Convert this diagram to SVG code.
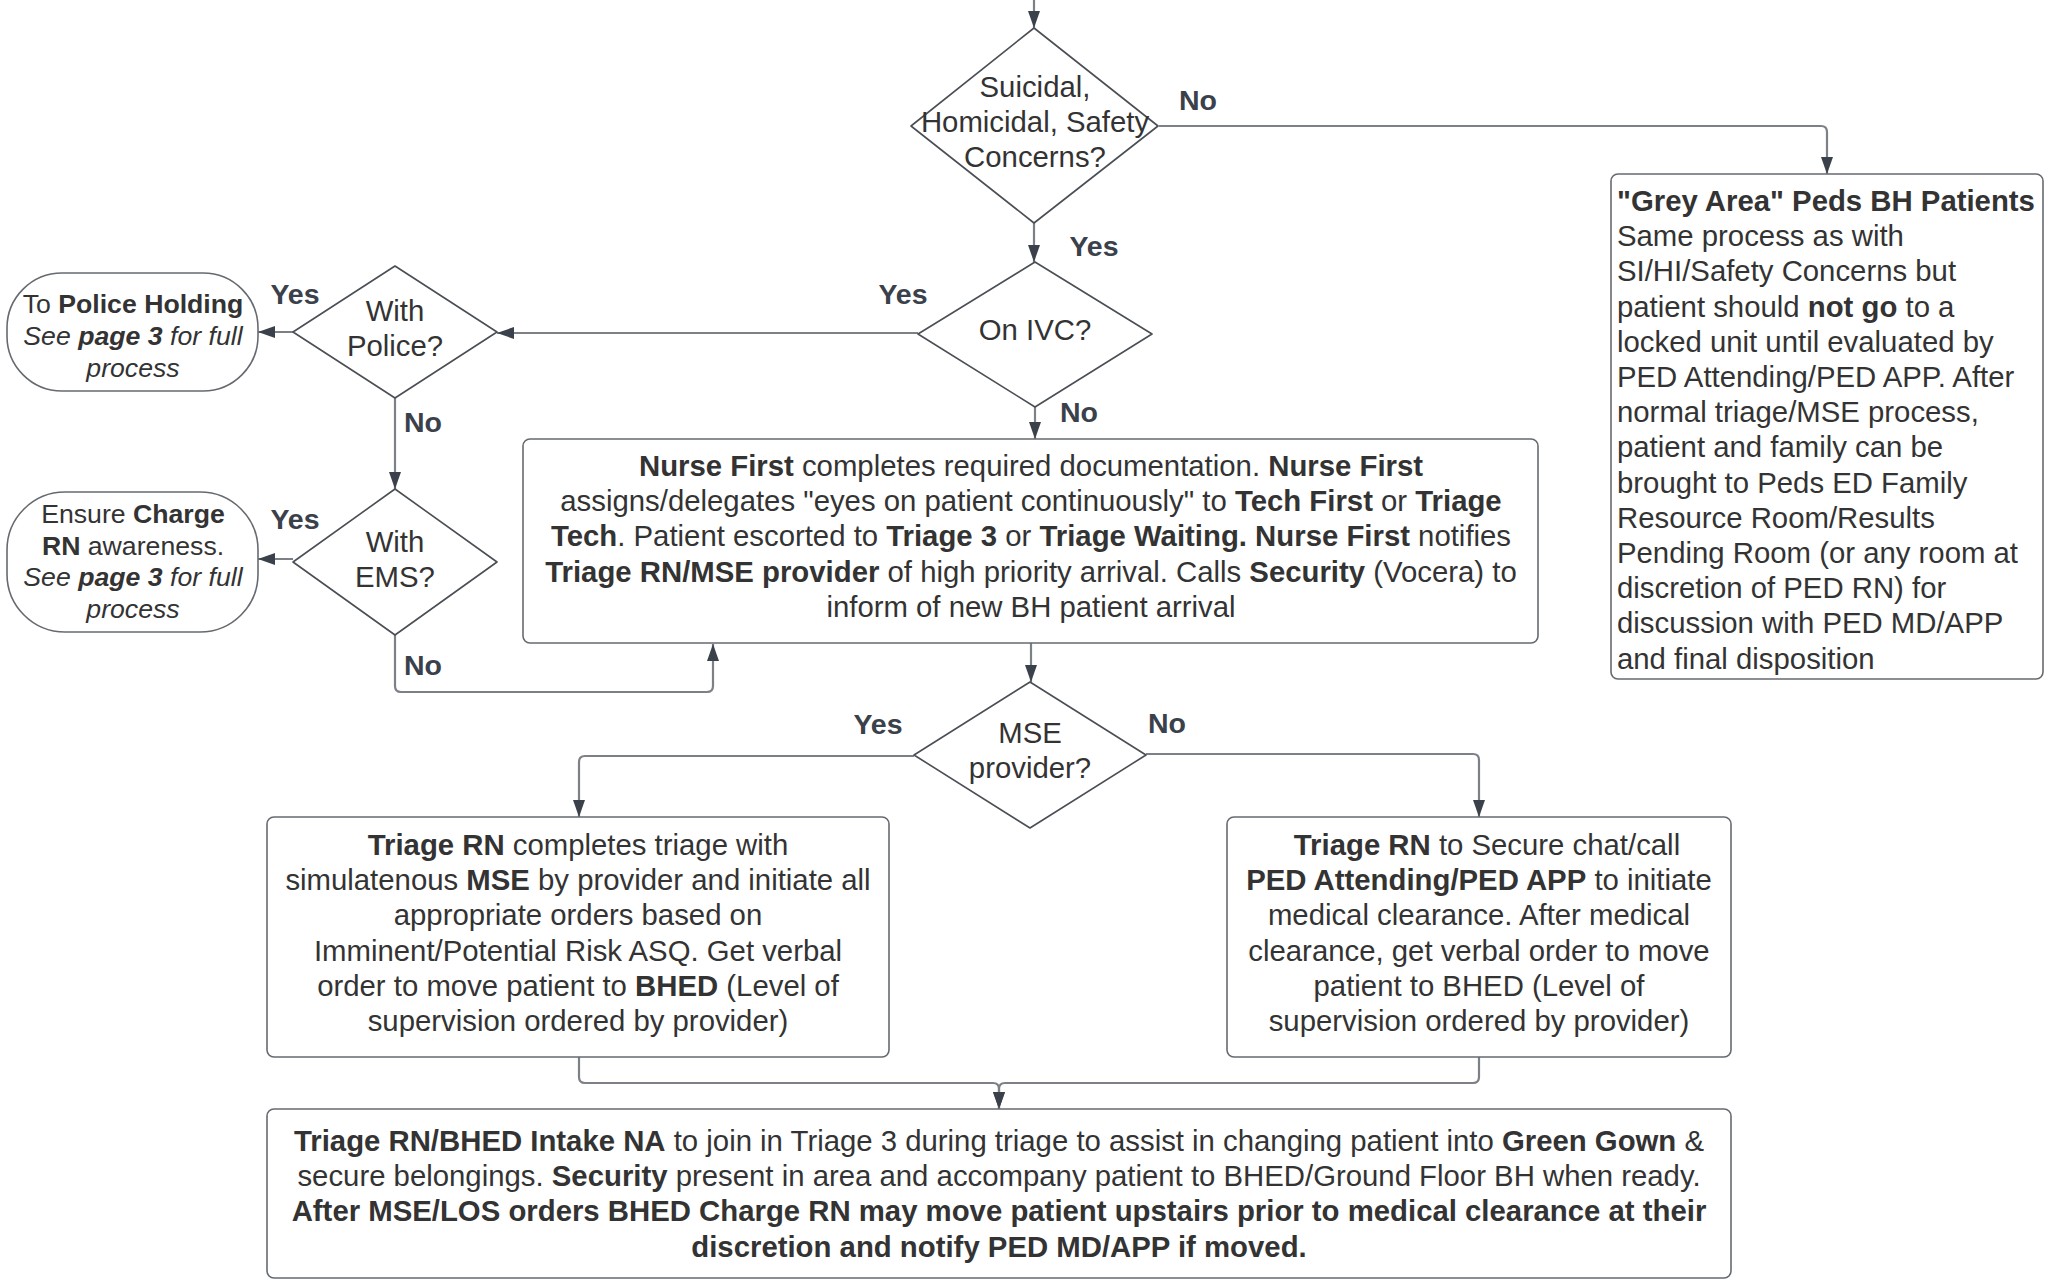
<svg xmlns="http://www.w3.org/2000/svg" width="2049" height="1282" viewBox="0 0 2049 1282">
<defs>
<marker id="ah" viewBox="0 0 17 12" refX="17" refY="6" markerWidth="17" markerHeight="12" markerUnits="userSpaceOnUse" orient="auto"><path d="M0,0 L17,6 L0,12 z" fill="#3a414a"/></marker>
<style>
.box{fill:#fff;stroke:#666a70;stroke-width:1.6}
.dia{fill:#fff;stroke:#4a4f55;stroke-width:1.6;stroke-linejoin:round}
.con{fill:none;stroke:#7d8187;stroke-width:2.2}
.t{font-family:"Liberation Sans",Arial,sans-serif;font-size:29.33px;fill:#333333}
.c{text-anchor:middle}
.s{font-size:26.67px}
.b{font-weight:bold}
.i{font-style:italic}
.lbl{font-family:"Liberation Sans",Arial,sans-serif;font-size:28.5px;font-weight:bold;fill:#3a414a;text-anchor:middle}
</style>
</defs>
<rect width="2049" height="1282" fill="#fff"/>

<g id="connectors">
<path class="con" d="M1034,0 V28" marker-end="url(#ah)"/>
<path class="con" d="M1034,223 V262" marker-end="url(#ah)"/>
<path class="con" d="M1159,126 H1821 Q1827,126 1827,132 V174" marker-end="url(#ah)"/>
<path class="con" d="M918,333 H497" marker-end="url(#ah)"/>
<path class="con" d="M1035,407 V439" marker-end="url(#ah)"/>
<path class="con" d="M293,332 H258" marker-end="url(#ah)"/>
<path class="con" d="M395,398 V489" marker-end="url(#ah)"/>
<path class="con" d="M293,559 H258" marker-end="url(#ah)"/>
<path class="con" d="M395,635 V686 Q395,692 401,692 H707 Q713,692 713,686 V644" marker-end="url(#ah)"/>
<path class="con" d="M1031,643 V682" marker-end="url(#ah)"/>
<path class="con" d="M914,756 H585 Q579,756 579,762 V817" marker-end="url(#ah)"/>
<path class="con" d="M1146,754 H1473 Q1479,754 1479,760 V817" marker-end="url(#ah)"/>
<path class="con" d="M579,1057 V1077 Q579,1083 585,1083 H993 Q999,1083 999,1089 V1109" marker-end="url(#ah)"/>
<path class="con" d="M1479,1057 V1077 Q1479,1083 1473,1083 H1005 Q999,1083 999,1089 V1109" marker-end="url(#ah)"/>
<text class="lbl" x="1198" y="110">No</text>
<text class="lbl" x="1094" y="256">Yes</text>
<text class="lbl" x="903" y="304">Yes</text>
<text class="lbl" x="1079" y="422">No</text>
<text class="lbl" x="295" y="304">Yes</text>
<text class="lbl" x="423" y="432">No</text>
<text class="lbl" x="295" y="529">Yes</text>
<text class="lbl" x="423" y="675">No</text>
<text class="lbl" x="878" y="734">Yes</text>
<text class="lbl" x="1167" y="733">No</text>
</g>

<g id="suicidal">
<path class="dia" d="M1034,28 L1158,126 L1034,223 L911,126 Z"/>
<text class="t c" x="1035" y="97">Suicidal,</text>
<text class="t c" x="1035" y="132">Homicidal, Safety</text>
<text class="t c" x="1035" y="167">Concerns?</text>
</g>

<g id="grey-area">
<rect class="box" x="1611" y="174" width="432" height="505" rx="7"/>
<text class="t" x="1617" y="211"><tspan class="b">"Grey Area" Peds BH Patients</tspan></text>
<text class="t" x="1617" y="246.2">Same process as with</text>
<text class="t" x="1617" y="281.4">SI/HI/Safety Concerns but</text>
<text class="t" x="1617" y="316.6">patient should <tspan class="b">not go</tspan> to a</text>
<text class="t" x="1617" y="351.8">locked unit until evaluated by</text>
<text class="t" x="1617" y="387">PED Attending/PED APP. After</text>
<text class="t" x="1617" y="422.2">normal triage/MSE process,</text>
<text class="t" x="1617" y="457.4">patient and family can be</text>
<text class="t" x="1617" y="492.6">brought to Peds ED Family</text>
<text class="t" x="1617" y="527.8">Resource Room/Results</text>
<text class="t" x="1617" y="563">Pending Room (or any room at</text>
<text class="t" x="1617" y="598.2">discretion of PED RN) for</text>
<text class="t" x="1617" y="633.4">discussion with PED MD/APP</text>
<text class="t" x="1617" y="668.6">and final disposition</text>
</g>

<g id="on-ivc">
<path class="dia" d="M1035,262 L1152,334 L1035,407 L918,334 Z"/>
<text class="t c" x="1035" y="340">On IVC?</text>
</g>

<g id="with-police">
<path class="dia" d="M395,266 L497,332 L395,398 L293,332 Z"/>
<text class="t c" x="395" y="321">With</text>
<text class="t c" x="395" y="356">Police?</text>
</g>

<g id="police-holding">
<rect class="box" x="7" y="273" width="251" height="118" rx="55" ry="55"/>
<text class="t s c" x="133" y="313">To <tspan class="b">Police Holding</tspan></text>
<text class="t s c i" x="133" y="345">See <tspan class="b">page 3</tspan> for full</text>
<text class="t s c i" x="133" y="377">process</text>
</g>

<g id="with-ems">
<path class="dia" d="M395,489 L497,562 L395,635 L293,562 Z"/>
<text class="t c" x="395" y="552">With</text>
<text class="t c" x="395" y="587">EMS?</text>
</g>

<g id="ensure-charge">
<rect class="box" x="7" y="492" width="251" height="140" rx="58" ry="58"/>
<text class="t s c" x="133" y="523">Ensure <tspan class="b">Charge</tspan></text>
<text class="t s c" x="133" y="555"><tspan class="b">RN</tspan> awareness.</text>
<text class="t s c i" x="133" y="586">See <tspan class="b">page 3</tspan> for full</text>
<text class="t s c i" x="133" y="618">process</text>
</g>

<g id="nurse-first">
<rect class="box" x="523" y="439" width="1015" height="204" rx="7"/>
<text class="t c" x="1031" y="476"><tspan class="b">Nurse First</tspan> completes required documentation. <tspan class="b">Nurse First</tspan></text>
<text class="t c" x="1031" y="511.2">assigns/delegates "eyes on patient continuously" to <tspan class="b">Tech First</tspan> or <tspan class="b">Triage</tspan></text>
<text class="t c" x="1031" y="546.4"><tspan class="b">Tech</tspan>. Patient escorted to <tspan class="b">Triage 3</tspan> or <tspan class="b">Triage Waiting. Nurse First</tspan> notifies</text>
<text class="t c" x="1031" y="581.6"><tspan class="b">Triage RN/MSE provider</tspan> of high priority arrival. Calls <tspan class="b">Security</tspan> (Vocera) to</text>
<text class="t c" x="1031" y="616.8">inform of new BH patient arrival</text>
</g>

<g id="mse-provider">
<path class="dia" d="M1030,682 L1146,755 L1030,828 L914,755 Z"/>
<text class="t c" x="1030" y="743">MSE</text>
<text class="t c" x="1030" y="778">provider?</text>
</g>

<g id="triage-mse">
<rect class="box" x="267" y="817" width="622" height="240" rx="7"/>
<text class="t c" x="578" y="855"><tspan class="b">Triage RN</tspan> completes triage with</text>
<text class="t c" x="578" y="890.2">simulatenous <tspan class="b">MSE</tspan> by provider and initiate all</text>
<text class="t c" x="578" y="925.4">appropriate orders based on</text>
<text class="t c" x="578" y="960.6">Imminent/Potential Risk ASQ. Get verbal</text>
<text class="t c" x="578" y="995.8">order to move patient to <tspan class="b">BHED</tspan> (Level of</text>
<text class="t c" x="578" y="1031">supervision ordered by provider)</text>
</g>

<g id="triage-secure-chat">
<rect class="box" x="1227" y="817" width="504" height="240" rx="7"/>
<text class="t c" x="1487" y="855"><tspan class="b">Triage RN</tspan> to Secure chat/call</text>
<text class="t c" x="1479" y="890.2"><tspan class="b">PED Attending/PED APP</tspan> to initiate</text>
<text class="t c" x="1479" y="925.4">medical clearance. After medical</text>
<text class="t c" x="1479" y="960.6">clearance, get verbal order to move</text>
<text class="t c" x="1479" y="995.8">patient to BHED (Level of</text>
<text class="t c" x="1479" y="1031">supervision ordered by provider)</text>
</g>

<g id="bhed-intake">
<rect class="box" x="267" y="1109" width="1464" height="169" rx="7"/>
<text class="t c" x="999" y="1151"><tspan class="b">Triage RN/BHED Intake NA</tspan> to join in Triage 3 during triage to assist in changing patient into <tspan class="b">Green Gown</tspan> &amp;</text>
<text class="t c" x="999" y="1186.2">secure belongings. <tspan class="b">Security</tspan> present in area and accompany patient to BHED/Ground Floor BH when ready.</text>
<text class="t c b" x="999" y="1221.4">After MSE/LOS orders BHED Charge RN may move patient upstairs prior to medical clearance at their</text>
<text class="t c b" x="999" y="1256.6">discretion and notify PED MD/APP if moved.</text>
</g>
</svg>
